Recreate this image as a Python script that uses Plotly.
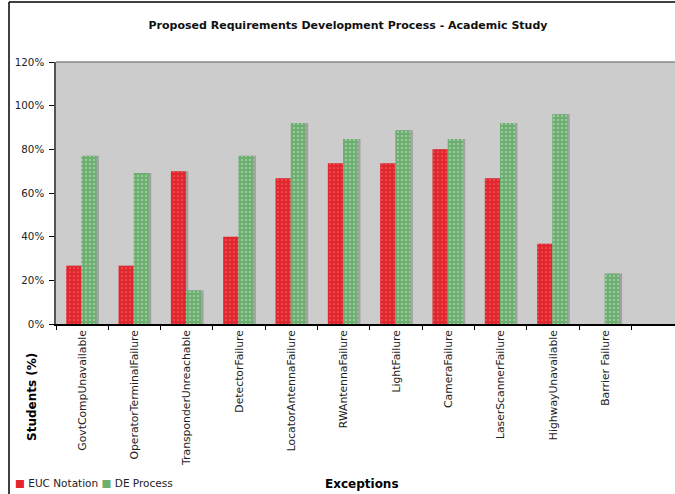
import plotly.graph_objects as go

categories = ["GovtCompUnavailable", "OperatorTerminalFailure", "TransponderUnreachable",
              "DetectorFailure", "LocatorAntennaFailure", "RWAntennaFailure", "LightFailure",
              "CameraFailure", "LaserScannerFailure", "HighwayUnavailable", "Barrier Failure"]
euc_notation = [0.267, 0.267, 0.70, 0.40, 0.667, 0.736, 0.736, 0.80, 0.667, 0.368, 0.0]
de_process = [0.771, 0.692, 0.154, 0.771, 0.921, 0.847, 0.887, 0.847, 0.921, 0.961, 0.231]
y_ticks = [0, 0.2, 0.4, 0.6, 0.8, 1.0, 1.2]

W, H = 675, 494
L, T, B = 56, 62, 324
PW, PH = W - L, B - T

def px(x):
    return (x - L) / PW

def py(y):
    return (B - y) / PH

RED = "#E2262E"
GREEN = "#6DAE71"
SHADOW = "#A2A2A2"
BW = 0.29
RED_OFF = -0.305
GREEN_OFF = -0.015
SH = 0.045

fig = go.Figure()
# shadows
fig.add_trace(go.Bar(x=categories, y=euc_notation, width=BW, offset=RED_OFF + SH,
                     marker=dict(color=SHADOW, line=dict(width=0)), showlegend=False, hoverinfo="skip"))
fig.add_trace(go.Bar(x=categories, y=de_process, width=BW, offset=GREEN_OFF + SH,
                     marker=dict(color=SHADOW, line=dict(width=0)), showlegend=False, hoverinfo="skip"))
# bars
fig.add_trace(go.Bar(name="EUC Notation", x=categories, y=euc_notation, width=BW, offset=RED_OFF,
                     marker=dict(color=RED, line=dict(width=0),
                                 pattern=dict(shape=".", fgcolor="#F4A6A6", bgcolor=RED, size=4, solidity=0.15))))
fig.add_trace(go.Bar(name="DE Process", x=categories, y=de_process, width=BW, offset=GREEN_OFF,
                     marker=dict(color=GREEN, line=dict(width=0),
                                 pattern=dict(shape=".", fgcolor="#E8F4E8", bgcolor=GREEN, size=4, solidity=0.2))))

fig.update_layout(
    width=W, height=H,
    margin=dict(l=L, r=0, t=T, b=H - B, autoexpand=False),
    paper_bgcolor="white", plot_bgcolor="#CCCCCC",
    barmode="overlay",
    showlegend=False,
    font=dict(family="DejaVu Sans", size=10, color="black"),
    title=dict(text="<b>Proposed Requirements Development Process - Academic Study</b>",
               x=px(348), xref="paper", xanchor="center",
               y=1 - 25 / H, yref="container", yanchor="middle",
               font=dict(family="DejaVu Sans", size=11, color="#111")),
    xaxis=dict(range=[-0.5, 11.33], type="category", tickson="boundaries",
               ticks="outside", ticklen=4, tickcolor="black", tickangle=-90,
               showline=True, linecolor="black", linewidth=1.5, showgrid=False,
               tickfont=dict(family="DejaVu Sans", size=10.8, color="#222")),
    yaxis=dict(range=[0, 1.2], tickvals=y_ticks, tickformat=".0%",
               ticks="outside", ticklen=5, tickcolor="black", ticklabelstandoff=3,
               showline=True, linecolor="#555", linewidth=1.5, showgrid=False, zeroline=False,
               tickfont=dict(family="DejaVu Sans", size=10.3, color="#222")),
    shapes=[
        dict(type="line", xref="paper", yref="paper", x0=0, x1=1, y0=1, y1=1,
             line=dict(color="#888", width=1.5)),
        dict(type="line", xref="paper", yref="paper", x0=px(9), x1=px(675), y0=py(2), y1=py(2),
             line=dict(color="black", width=1.5)),
        dict(type="line", xref="paper", yref="paper", x0=px(9), x1=px(9), y0=py(2), y1=py(494),
             line=dict(color="black", width=1.5)),
    ],
    annotations=[
        dict(text="<b>Students (%)</b>", x=px(32), y=py(397), xref="paper", yref="paper",
             xanchor="center", yanchor="middle",
             textangle=-90, showarrow=False, font=dict(family="DejaVu Sans", size=12)),
        dict(text="<b>Exceptions</b>", x=px(362), y=py(484), xref="paper", yref="paper",
             xanchor="center", yanchor="middle",
             showarrow=False, font=dict(family="DejaVu Sans", size=12)),
        dict(text=f"<span style='color:{RED}'>■</span> EUC Notation <span style='color:{GREEN}'>■</span> DE Process",
             x=px(13), y=py(483), xref="paper", yref="paper", xanchor="left", yanchor="middle",
             showarrow=False, font=dict(family="DejaVu Sans", size=10.5, color="#222")),
    ],
)

fig.write_html("out.html", config={"displayModeBar": False})
